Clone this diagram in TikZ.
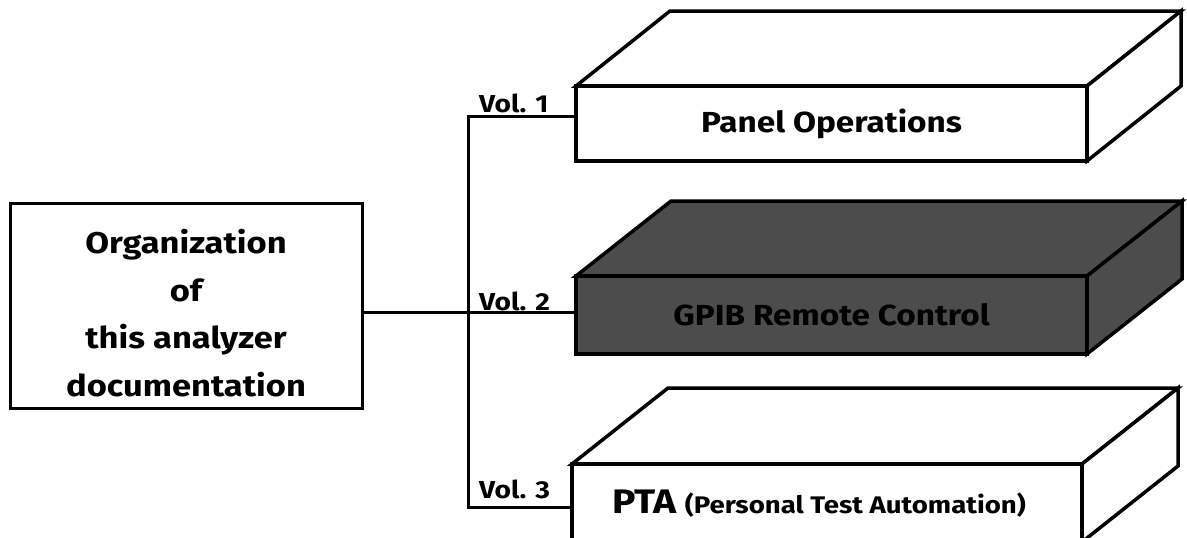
\documentclass[tikz,border=0pt]{standalone}
\usepackage{fontspec}
\setmainfont{Fira Sans}[FakeStretch=1.15]
\usetikzlibrary{calc}

\tikzset{
  link/.style={line width=3pt, line cap=rect},
  face/.style={draw, line width=3.5pt, line join=miter, fill=white},
  darkface/.style={face, fill=black!70},
  front/.style={rectangle, inner sep=0pt, outer sep=0pt},
  title/.style={font=\fontsize{30}{47.5}\selectfont\bfseries, align=center, inner sep=0pt},
  boxtext/.style={font=\fontsize{29}{34}\selectfont\bfseries, inner sep=0pt},
  vol/.style={font=\fontsize{24.5}{30}\selectfont\bfseries, inner sep=0pt, anchor=base west},
}

\begin{document}
\begin{tikzpicture}[x=1pt, y=-1pt]
  \clip (0,0) rectangle (1187,538);
  \fill[white] (0,0) rectangle (1187,538);

  % overview box on the left
  \node[draw, line width=3pt, front, minimum width=352pt, minimum height=205pt] (org) at (186,305.5) {};
  \node[title] (orgtext) at (186,313) {Organization\\of\\this analyzer\\documentation};

  % volume slabs: front faces
  \node[front, minimum width=511pt, minimum height=75pt] (b1) at (831.5,123.5) {};
  \node[front, minimum width=511pt, minimum height=78pt] (b2) at (831.5,315) {};
  \node[front, minimum width=510pt, minimum height=78pt] (b3) at (827,503) {};

  % slab 1
  \draw[face] (b1.north west) -- ++(94,-75) -- ($(b1.north east)+(94,-75)$) -- (b1.north east) -- cycle;
  \draw[face] (b1.north east) -- ++(94,-75) -- ++(0,75) -- (b1.south east) -- cycle;
  \draw[face] (b1.north west) rectangle (b1.south east);

  % slab 2 (shaded)
  \draw[darkface] (b2.north west) -- ++(95,-75) -- ($(b2.north east)+(95,-75)$) -- (b2.north east) -- cycle;
  \draw[darkface] (b2.north east) -- ++(95,-75) -- ++(0,78) -- (b2.south east) -- cycle;
  \draw[darkface] (b2.north west) rectangle (b2.south east);

  % slab 3
  \draw[face] (b3.north west) -- ++(96,-76) -- ($(b3.north east)+(96,-76)$) -- (b3.north east) -- cycle;
  \draw[face] (b3.north east) -- ++(96,-76) -- ++(0,78) -- (b3.south east) -- cycle;
  \draw[face] (b3.north west) rectangle (b3.south east);

  % slab titles
  \node[boxtext] (t1) at (b1.center) {Panel Operations};
  \node[boxtext] (t2) at (b2.center) {GPIB Remote Control};
  \node[boxtext, anchor=base] (t3) at ($(b3.center)+(-8,10)$) {{\fontsize{34}{40}\selectfont PTA} {\fontsize{24}{30}\selectfont(Personal Test Automation)}};

  % tree of connectors
  \coordinate (j1) at (468,116);
  \coordinate (j2) at (468,312);
  \coordinate (j3) at (468,507);
  \draw[link] (j1 -| b1.west) -- (j1) -- (j3) -- (j3 -| b3.west);
  \draw[link] (org.east |- j2) -- (j2 -| b2.west);

  % volume labels
  \node[vol] (v1) at (479,112) {Vol. 1};
  \node[vol] (v2) at (479,310) {Vol. 2};
  \node[vol] (v3) at (479,498) {Vol. 3};
\end{tikzpicture}
\end{document}
